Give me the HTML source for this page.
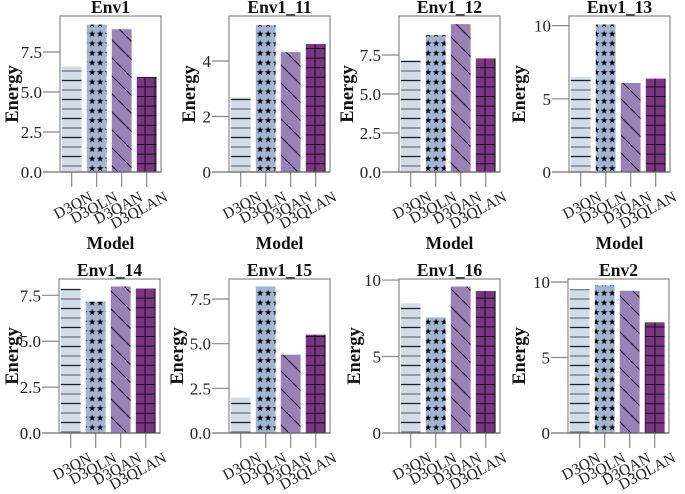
<!DOCTYPE html>
<html><head><meta charset="utf-8"><style>
html,body{margin:0;padding:0;background:#fff}
svg{display:block}
text{font-family:"Liberation Serif",serif}
</style></head><body>
<svg id="chart" width="685" height="494" viewBox="0 0 685 494" xmlns="http://www.w3.org/2000/svg">
<defs>
<pattern id="p-h" patternUnits="userSpaceOnUse" width="10" height="19">
<rect width="10" height="19" fill="#d0dde9"/>
<line x1="0" y1="4.5" x2="10" y2="4.5" stroke="#222" stroke-width="1.3"/>
<line x1="0" y1="14" x2="10" y2="14" stroke="#777" stroke-width="1.3"/>
</pattern>
<pattern id="p-s" patternUnits="userSpaceOnUse" width="8" height="9.6">
<rect width="8" height="9.6" fill="#a3b5d3"/>
<text x="4" y="8" font-size="9" text-anchor="middle" fill="#000" font-family="DejaVu Sans">★</text>
</pattern>
<pattern id="p-d" patternUnits="userSpaceOnUse" width="18" height="18">
<rect width="18" height="18" fill="#9a82b8"/>
<line x1="0" y1="0" x2="18" y2="18" stroke="#111" stroke-width="1"/>
</pattern>
<pattern id="p-g" patternUnits="userSpaceOnUse" width="10" height="9.6">
<rect width="10" height="9.6" fill="#7b3584"/>
<line x1="0" y1="0.5" x2="10" y2="0.5" stroke="#111" stroke-width="1"/>
<line x1="5" y1="0" x2="5" y2="9.6" stroke="#111" stroke-width="1"/>
</pattern>
</defs>
<g id="root"></g>
</svg>
<script>
const categories = ["D3QN","D3QLN","D3QAN","D3QLAN"];
const panelTitles = ["Env1","Env1_11","Env1_12","Env1_13","Env1_14","Env1_15","Env1_16","Env2"];
const valsEnv1 = [6.6, 9.23, 8.94, 5.96];
const valsEnv1_11 = [2.7, 5.3, 4.33, 4.62];
const valsEnv1_12 = [7.18, 8.8, 9.5, 7.3];
const valsEnv1_13 = [6.5, 10.1, 6.1, 6.4];
const valsEnv1_14 = [7.88, 7.17, 8.0, 7.88];
const valsEnv1_15 = [2.0, 8.22, 4.4, 5.52];
const valsEnv1_16 = [8.5, 7.58, 9.6, 9.3];
const valsEnv2 = [9.53, 9.8, 9.44, 7.35];
const yMax = [9.75, 5.62, 10.0, 10.66, 8.39, 8.62, 10.07, 10.2];
const tickLabelsA = ["0.0","2.5","5.0","7.5"];
const tickLabelsB = ["0","2","4"];
const tickLabelsC = ["0","5","10"];
const tickValuesA = [0,2.5,5,7.5];
const tickValuesB = [0,2,4];
const tickValuesC = [0,5,10];

const allVals=[valsEnv1,valsEnv1_11,valsEnv1_12,valsEnv1_13,valsEnv1_14,valsEnv1_15,valsEnv1_16,valsEnv2];
const ticksFor=[[tickValuesA,tickLabelsA],[tickValuesB,tickLabelsB],[tickValuesA,tickLabelsA],[tickValuesC,tickLabelsC],[tickValuesA,tickLabelsA],[tickValuesA,tickLabelsA],[tickValuesC,tickLabelsC],[tickValuesC,tickLabelsC]];
const layout=[[60,16,172,13],[229,16,172,190],[399,16,172,348],[569,16,172,520],[59,279,433,13],[229,279,433,178],[399,279,433,355],[568,279,433,520]];
const fills=["url(#p-h)","url(#p-s)","url(#p-d)","url(#p-g)"];
const NS="http://www.w3.org/2000/svg";
const root=document.getElementById('root');
function mk(tag,attrs,parent,txt){const e=document.createElementNS(NS,tag);for(const k in attrs)e.setAttribute(k,attrs[k]);if(txt!==undefined)e.textContent=txt;parent.appendChild(e);return e;}
allVals.forEach((vals,pi)=>{
  const [L,T,B,YL]=layout[pi];const W=101;
  const y=v=>B-(v/yMax[pi])*(B-T);
  const x=i=>L+11.7+25*i;
  const g=mk('g',{},root);
  
  
  const fr=mk('rect',{x:L,y:T,width:W,height:B-T,fill:'none',stroke:'#888','stroke-width':1.2},g);
  
  vals.forEach((v,i)=>{
    const r=mk('rect',{x:x(i)-10.2,y:y(v),width:20.4,height:B-y(v),fill:fills[i],stroke:'#fff','stroke-width':0.6},g);
    
    
    const tk=mk('line',{x1:x(i),y1:B,x2:x(i),y2:B+15,stroke:'#888','stroke-width':1.2},g);
    
    const ax0=x(i)+22, ay0=B+28;
    const tl=mk('text',{x:ax0,y:ay0,'font-size':15.5,'text-anchor':'end',fill:'#222',transform:`rotate(-28 ${ax0} ${ay0})`},g,categories[i]);
    
  });
  const ax=mk('line',{x1:L-17,y1:B,x2:L+W,y2:B,stroke:'#666','stroke-width':1.3},g);
  
  const [tv,tl]=ticksFor[pi];
  tv.forEach((t,j)=>{
    const ln=mk('line',{x1:L-17,y1:y(t),x2:L,y2:y(t),stroke:'#888','stroke-width':1.2},g);
    
    const tx=mk('text',{x:L-18,y:y(t)+6,'font-size':17,'text-anchor':'end',fill:'#222'},g,tl[j]);
    
  });
  const ti=mk('text',{x:L+W/2,y:T-3,'font-size':17.5,'font-weight':'bold','text-anchor':'middle',fill:'#111'},g,panelTitles[pi]);
  
  const yl=mk('text',{x:YL,y:(T+B)/2,'font-size':18.5,'font-weight':'bold','text-anchor':'middle',fill:'#111',transform:`rotate(-90 ${YL} ${(T+B)/2})`,'dominant-baseline':'central'},g,'Energy');
  
  const xl=mk('text',{x:L+W/2,y:B+77,'font-size':17.5,'font-weight':'bold','text-anchor':'middle',fill:'#111'},g,'Model');
  
});
</script>
</body></html>
